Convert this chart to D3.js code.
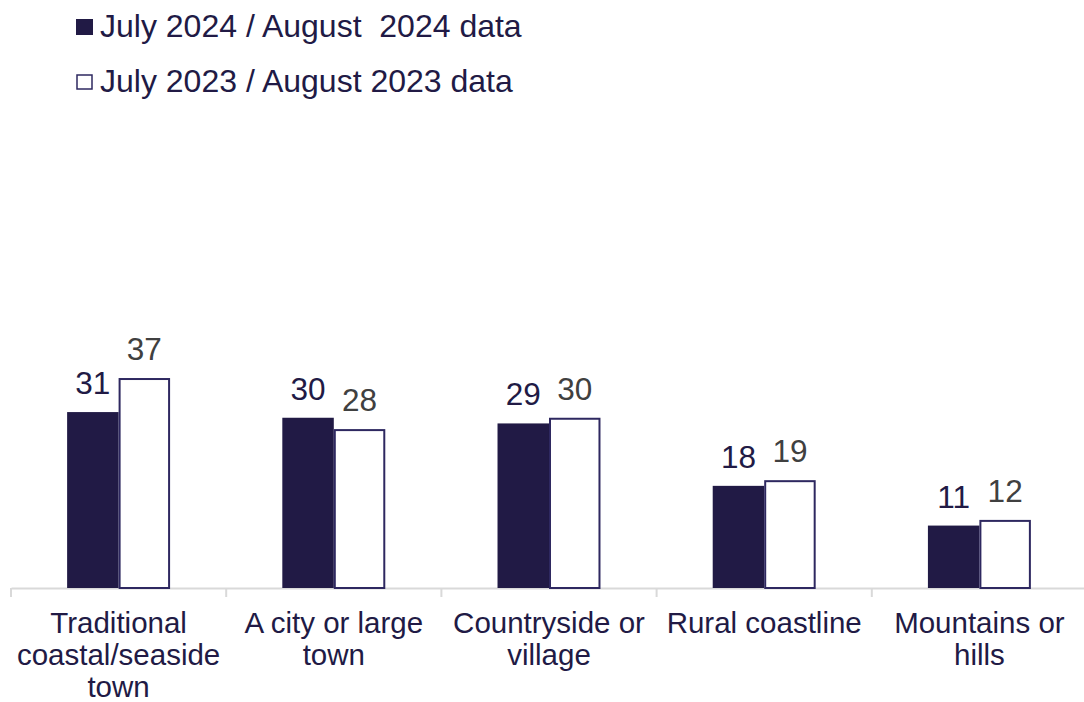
<!DOCTYPE html>
<html lang="en">
<head>
    <meta charset="UTF-8">
    <title>Holiday destination types</title>
    <script src="https://d3js.org/d3.v7.min.js"></script>
    <style>
        body { margin: 0; background: #fff; font-family: "Liberation Sans", Arial, sans-serif; }
        svg { display: block; }
    </style>
</head>
<body>
    <svg width="1084" height="702"></svg>

    <script>
        const categories = ["Traditional coastal/seaside town", "A city or large town", "Countryside or village", "Rural coastline", "Mountains or hills"];
        const seriesNames = ["July 2024 / August  2024 data", "July 2023 / August 2023 data"];
        const values2024 = [31, 30, 29, 18, 11];
        const values2023 = [37, 28, 30, 19, 12];

        const navy = "#211a45";
        const svg = d3.select("svg");

        const x0 = d3.scaleBand().domain(categories).range([11, 1087]).padding(0);
        const x1 = d3.scaleBand().domain([0, 1]).range([0, x0.bandwidth()]).paddingInner(0).paddingOuter(1.09);
        const y = d3.scaleLinear().domain([0, 40]).range([588, 361]);

        const rows = categories.map((c, i) => ({ cat: c, vals: [values2024[i], values2023[i]] }));

        // axis line + ticks
        const axis = svg.append("g").attr("transform", `translate(0,${y(0)})`)
            .call(d3.axisBottom(x0).tickSize(0).tickFormat(""));
        axis.select(".domain").attr("stroke", "#d9d9d9").attr("stroke-width", 2);
        const edges = categories.map(c => x0(c)).concat([x0.range()[1]]);
        svg.selectAll(".tk").data(edges).enter().append("line")
            .attr("x1", d => d).attr("x2", d => d)
            .attr("y1", y(0)).attr("y2", y(0) + 9)
            .attr("stroke", "#d9d9d9").attr("stroke-width", 2);

        // bars
        const groups = svg.selectAll(".grp").data(rows).enter().append("g")
            .attr("transform", d => `translate(${x0(d.cat)},0)`);

        groups.selectAll("rect").data(d => d.vals).enter().append("rect")
            .attr("x", (d, i) => x1(i) + (i === 1 ? 1 : 0))
            .attr("y", (d, i) => y(d) + (i === 1 ? 1 : 0))
            .attr("width", (d, i) => x1.bandwidth() - (i === 1 ? 2 : 0))
            .attr("height", (d, i) => y(0) - y(d) - (i === 1 ? 1 : 0))
            .attr("fill", (d, i) => i === 0 ? navy : "#fff")
            .attr("stroke", (d, i) => i === 0 ? "none" : "#2e2860")
            .attr("stroke-width", 2);

        groups.selectAll(".val").data(d => d.vals).enter().append("text")
            .attr("x", (d, i) => x1(i) + x1.bandwidth() / 2)
            .attr("y", d => y(d) - 18)
            .attr("text-anchor", "middle")
            .attr("font-size", 31.5)
            .attr("fill", (d, i) => i === 0 ? navy : "#404040")
            .text(d => d);

        // category labels, wrapped
        const wrap = (textSel, width) => {
            textSel.each(function () {
                const t = d3.select(this);
                const words = t.text().split(/\s+/);
                const cx = t.attr("x");
                t.text(null);
                let line = [];
                let ts = t.append("tspan").attr("x", cx).attr("dy", 0);
                words.forEach(w => {
                    line.push(w);
                    ts.text(line.join(" "));
                    if (ts.node().getComputedTextLength() > width && line.length > 1) {
                        line.pop();
                        ts.text(line.join(" "));
                        line = [w];
                        ts = t.append("tspan").attr("x", cx).attr("dy", 32).text(w);
                    }
                });
            });
        };

        svg.selectAll(".cat").data(categories).enter().append("text")
            .attr("x", d => x0(d) + x0.bandwidth() / 2)
            .attr("y", 633)
            .attr("text-anchor", "middle")
            .attr("font-size", 29.5)
            .attr("fill", navy)
            .text(d => d)
            .call(wrap, 205);

        // legend
        const legend = svg.selectAll(".leg").data(seriesNames).enter().append("g")
            .attr("transform", (d, i) => `translate(76,${19 + i * 55})`);
        legend.append("rect")
            .attr("x", (d, i) => i === 0 ? 0 : 1)
            .attr("y", (d, i) => i === 0 ? 0 : 1)
            .attr("width", (d, i) => i === 0 ? 17 : 15)
            .attr("height", (d, i) => i === 0 ? 16 : 14)
            .attr("fill", (d, i) => i === 0 ? navy : "#fff")
            .attr("stroke", (d, i) => i === 0 ? "none" : "#2e2860")
            .attr("stroke-width", 1.5);
        legend.append("text")
            .attr("x", 24)
            .attr("y", 17.5)
            .attr("font-size", 32)
            .attr("fill", navy)
            .attr("xml:space", "preserve")
            .style("white-space", "pre")
            .text(d => d);
    </script>
</body>
</html>
